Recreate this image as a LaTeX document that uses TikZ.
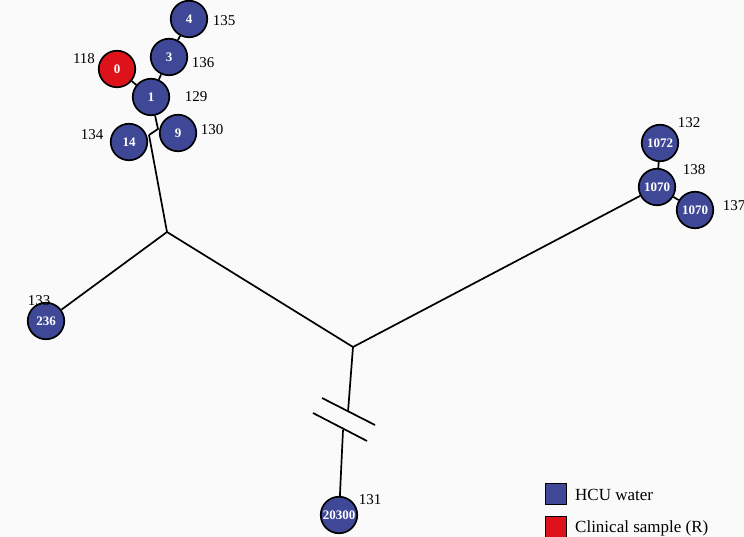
\documentclass[tikz,border=0pt]{standalone}
\usepackage{fontspec}
\setmainfont{Liberation Serif}
\definecolor{bgc}{RGB}{250,250,250}
\definecolor{hcu}{RGB}{62,72,150}
\definecolor{clin}{RGB}{222,18,26}
\tikzset{
  iso/.style={circle,draw=black,line width=1.7pt,fill=hcu,minimum size=36.5pt,inner sep=0pt,text=white,font=\fontsize{13}{13}\selectfont\bfseries},
  clinical/.style={iso,fill=clin},
  lab/.style={font=\fontsize{15}{15}\selectfont,inner sep=0pt},
  edge/.style={line width=1.7pt,black},
  legbox/.style={draw=black,line width=1.3pt,minimum size=21pt,inner sep=0pt},
  legtext/.style={font=\fontsize{17}{17}\selectfont,anchor=west,inner sep=0pt}
}
\begin{document}
\begin{tikzpicture}[x=1pt,y=-1pt]
\fill[bgc] (0,0) rectangle (744,537);
\useasboundingbox (0,0) rectangle (744,537);
% internal points
\coordinate (I1) at (167,232);
\coordinate (I2) at (353,347);
\coordinate (J) at (158,129);
\coordinate (K) at (149,135);
\coordinate (B1) at (348,412);
\coordinate (B2) at (343,430);
\coordinate (S1a) at (322,398);
\coordinate (S1b) at (375,425);
\coordinate (S2a) at (313,413);
\coordinate (S2b) at (367,441);
% nodes
\node[iso] (n4) at (189,19) {4};
\node[iso] (n3) at (169,57) {3};
\node[clinical] (n0) at (117,69) {0};
\node[iso] (n1) at (151,97) {1};
\node[iso] (n9) at (178,133) {9};
\node[iso] (n14) at (129,142) {14};
\node[iso] (n236) at (46,321) {236};
\node[iso] (n1072) at (660,143) {1072};
\node[iso] (n1070a) at (657,187) {1070};
\node[iso] (n1070b) at (695,210) {1070};
\node[iso] (n20300) at (339,515) {20300};
% edges
\draw[edge] (n4) -- (n3);
\draw[edge] (n3) -- (n1);
\draw[edge] (n0) -- (n1);
\draw[edge] (n1) -- (J) -- (K);
\draw[edge] (K) -- (I1);
\draw[edge] (I1) -- (n236);
\draw[edge] (I1) -- (I2);
\draw[edge] (I2) -- (n1070a);
\draw[edge] (n1070a) -- (n1072);
\draw[edge] (n1070a) -- (n1070b);
\draw[edge] (I2) -- (B1);
\draw[edge] (B2) -- (n20300);
\draw[edge] (S1a) -- (S1b);
\draw[edge] (S2a) -- (S2b);
% labels
\node[lab] at (224,21) {135};
\node[lab] at (203,63) {136};
\node[lab] at (84,59) {118};
\node[lab] at (196,97) {129};
\node[lab] at (212,130) {130};
\node[lab] at (92,135) {134};
\node[lab] at (39,301) {133};
\node[lab] at (689,123) {132};
\node[lab] at (694,170) {138};
\node[lab] at (734,206) {137};
\node[lab] at (370,500) {131};
% legend
\node[legbox,fill=hcu] (lb1) at (556,494) {};
\node[legbox,fill=clin] (lb2) at (556,527) {};
\node[legtext] at (575,495) {HCU water};
\node[legtext] at (575,528) {Clinical sample (R)};
\end{tikzpicture}
\end{document}
